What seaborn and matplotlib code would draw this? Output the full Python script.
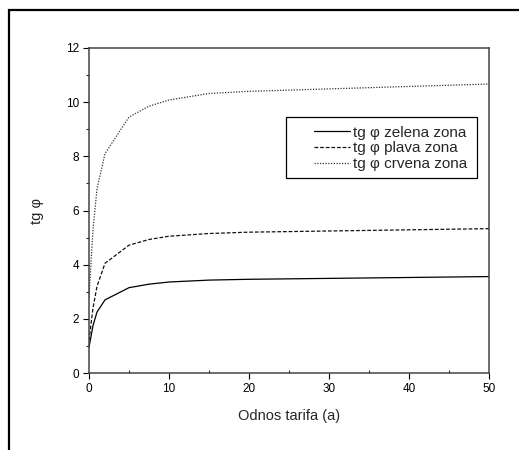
import pandas as pd
import matplotlib.pyplot as plt
import seaborn as sns
from matplotlib.patches import Rectangle
from matplotlib.ticker import MultipleLocator

# vrijednosti ocitane sa slike
odnos = [0, 0.5, 1, 2, 5, 7.5, 10, 15, 20, 50]
zelena = [0.95, 1.75, 2.25, 2.7, 3.15, 3.28, 3.36, 3.43, 3.46, 3.56]
plava = [1.2, 2.4, 3.2, 4.05, 4.72, 4.93, 5.05, 5.15, 5.2, 5.33]
crvena = [2.8, 5.3, 6.8, 8.1, 9.45, 9.85, 10.08, 10.32, 10.4, 10.67]

labels = ["tg φ zelena zona", "tg φ plava zona", "tg φ crvena zona"]

df = pd.concat([
    pd.DataFrame({"a": odnos, "tg": zelena, "zona": labels[0]}),
    pd.DataFrame({"a": odnos, "tg": plava, "zona": labels[1]}),
    pd.DataFrame({"a": odnos, "tg": crvena, "zona": labels[2]}),
], ignore_index=True)

sns.set_style("white")
plt.rcParams["font.family"] = ["Liberation Sans", "DejaVu Sans"]

fig = plt.figure(figsize=(5.19, 4.5), dpi=100)
ax = fig.add_axes([89 / 519, 1 - 373 / 450, 400 / 519, 325 / 450])

# okvir oko slike
fig.patches.append(Rectangle((9 / 519, -0.1), 1.2, 1 - 10 / 450 + 0.1,
                             transform=fig.transFigure, fill=False,
                             edgecolor="black", linewidth=1.6))

sns.lineplot(
    data=df, x="a", y="tg", hue="zona", style="zona",
    palette={labels[0]: "black", labels[1]: "#111111", labels[2]: "#333333"},
    dashes={labels[0]: "", labels[1]: (3, 1.5), labels[2]: (1, 1.2)},
    linewidth=0.9, ax=ax,
)

ax.set_xlim(0, 50)
ax.set_ylim(0, 12)
ax.xaxis.set_major_locator(MultipleLocator(10))
ax.xaxis.set_minor_locator(MultipleLocator(5))
ax.yaxis.set_major_locator(MultipleLocator(2))
ax.yaxis.set_minor_locator(MultipleLocator(1))
ax.tick_params(which="major", direction="out", length=4, width=0.8,
               labelsize=8.5, colors="black", bottom=True, left=True, pad=3)
ax.tick_params(axis="y", which="minor", direction="out", length=2.5, width=0.8, left=True)
ax.tick_params(axis="x", which="minor", direction="in", length=2.5, width=0.8, bottom=True)

for s in ax.spines.values():
    s.set_visible(True)
    s.set_color("#444444")
    s.set_linewidth(1.1)

ax.set_xlabel("Odnos tarifa (a)", fontsize=10.5, labelpad=10)
ax.set_ylabel("tg φ", fontsize=10.5, labelpad=16)

# okvir legende (siri nego sto ga legenda sama crta)
ax.add_patch(Rectangle((0.4925, 0.6), 0.4775, 0.188, transform=ax.transAxes,
                       facecolor="white", edgecolor="black", linewidth=0.9, zorder=4))
leg = ax.legend(loc="upper left", bbox_to_anchor=(0.5425, 0.785), fontsize=11,
                handlelength=2.4, handletextpad=0.15, borderpad=0,
                labelspacing=0.12, frameon=False)
leg.set_zorder(5)

fig.savefig("out.png", dpi=100)
